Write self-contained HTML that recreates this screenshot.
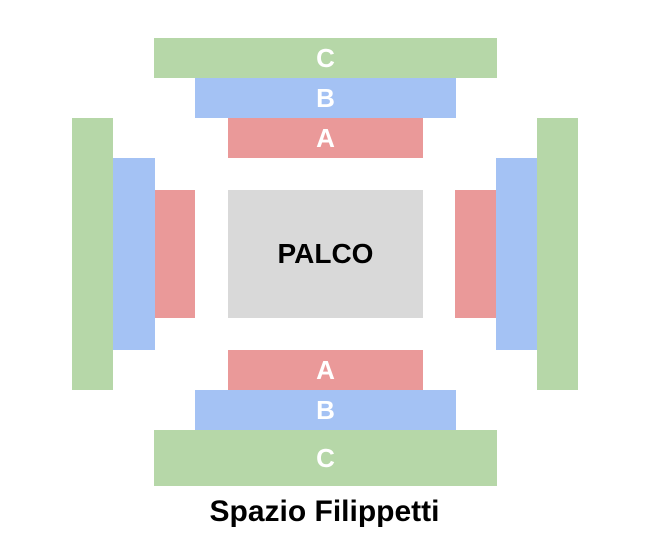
<!DOCTYPE html>
<html><head><style>
body{margin:0;width:649px;height:540px;background:#fff;position:relative;overflow:hidden;font-family:"Liberation Sans",Arial,sans-serif}
div.r{position:absolute;display:flex;align-items:center;justify-content:center;color:#fff;font-weight:bold;font-size:26px}
.g{background:#b6d7a8}.b{background:#a4c2f4}.a{background:#ea9999}
</style></head><body>
<div class="r g" style="left:154px;top:38px;width:343px;height:40px">C</div>
<div class="r b" style="left:195px;top:78px;width:261px;height:40px">B</div>
<div class="r a" style="left:228px;top:118px;width:195px;height:40px">A</div>
<div class="r" style="left:228px;top:190px;width:195px;height:128px;background:#d9d9d9;color:#000;font-size:28px">PALCO</div>
<div class="r a" style="left:228px;top:350px;width:195px;height:40px">A</div>
<div class="r b" style="left:195px;top:390px;width:261px;height:40px">B</div>
<div class="r g" style="left:154px;top:430px;width:343px;height:56px">C</div>
<div class="r g" style="left:72px;top:118px;width:41px;height:272px"></div>
<div class="r b" style="left:113px;top:158px;width:42px;height:192px"></div>
<div class="r a" style="left:155px;top:190px;width:40px;height:128px"></div>
<div class="r a" style="left:455px;top:190px;width:41px;height:128px"></div>
<div class="r b" style="left:496px;top:158px;width:41px;height:192px"></div>
<div class="r g" style="left:537px;top:118px;width:41px;height:272px"></div>
<div style="position:absolute;left:0;width:649px;top:495px;text-align:center;font-weight:bold;font-size:30px;color:#000">Spazio Filippetti</div>
</body></html>
